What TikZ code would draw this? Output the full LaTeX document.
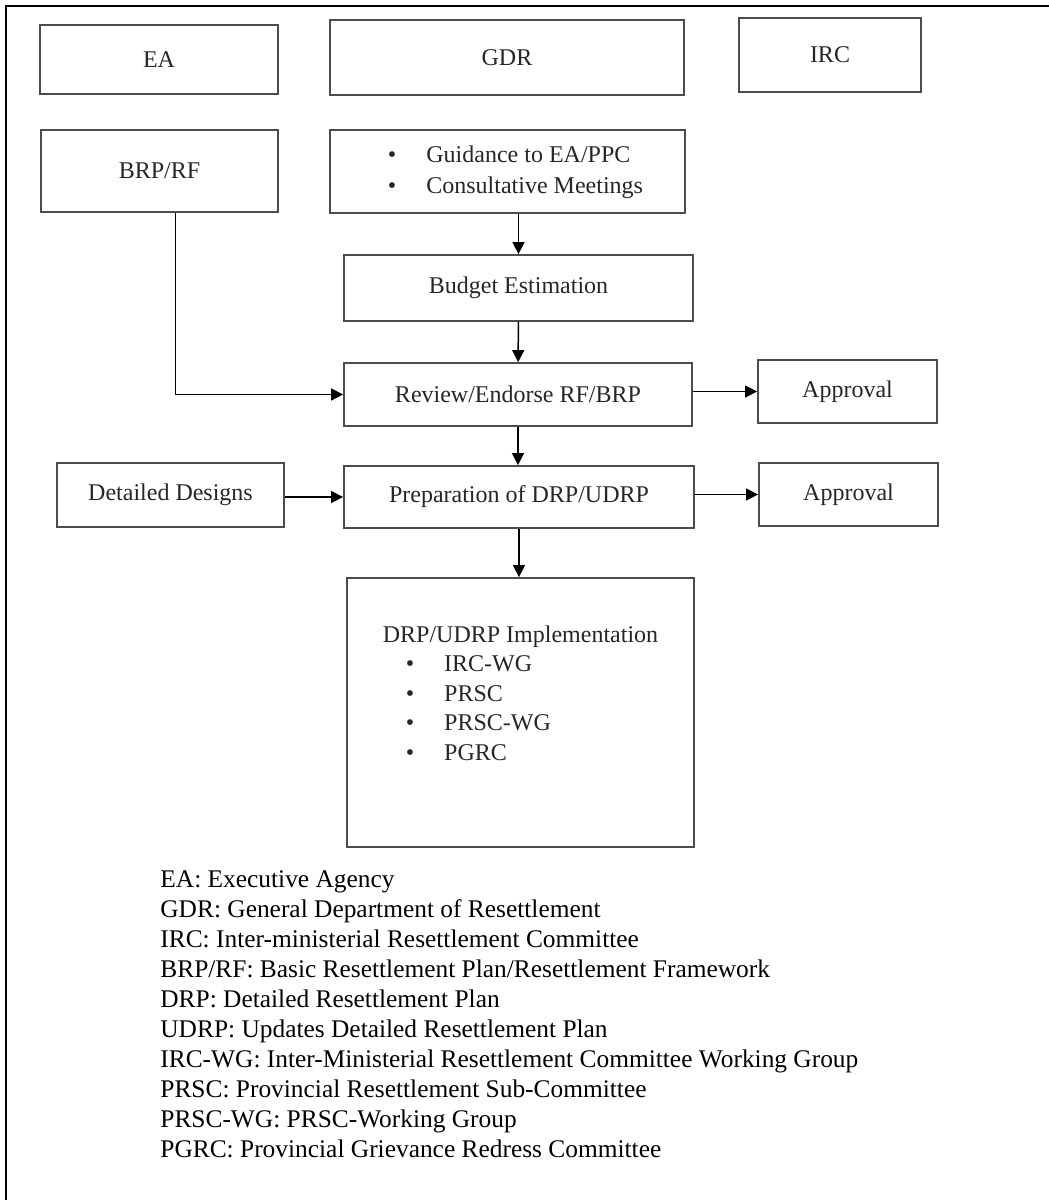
\documentclass[tikz,border=0pt]{standalone}
\usepackage{fontspec}
\setmainfont{Liberation Serif}
\usepackage{tikz}
\usetikzlibrary{arrows.meta,positioning}

\newcommand{\bitem}{\textbullet\hspace{15pt}}

\begin{document}
\begin{tikzpicture}[
    x=0.5pt, y=-0.5pt,
    box/.style={draw=black!70, line width=0.9pt, inner sep=0pt, align=center,
                text=black!85, font=\fontsize{12}{15}\selectfont},
    arr/.style={-{Triangle[length=6pt,width=6pt]}, line width=0.75pt},
    frame/.style={line width=1.2pt},
    note/.style={anchor=north west, inner sep=0pt, align=left,
                 font=\fontsize{12.7}{15}\selectfont}]
  \useasboundingbox (0,0) rectangle (1049,1200);
  \draw[frame] (6,1200) -- (6,6) -- (1049,6);

  % top row
  \node[box, minimum width=119pt,   minimum height=34.5pt] (ea)  at (159,59.5) {EA};
  \node[box, minimum width=177pt,   minimum height=37.5pt] (gdr) at (507,57.5) {GDR};
  \node[box, minimum width=91pt,    minimum height=37pt]   (irc) at (830,55)   {IRC};

  % main flow
  \node[box, minimum width=118.5pt, minimum height=41pt]   (brp)   at (159.5,171) {BRP/RF};
  \node[box, minimum width=177.5pt, minimum height=41.5pt] (guide) at (507.5,171.5)
    {\fontsize{12}{15.75}\selectfont
     \begin{tabular}{@{\hspace{8pt}}l@{}}
       \bitem Guidance to EA/PPC\\
       \bitem Consultative Meetings
     \end{tabular}};
  \node[box, minimum width=174.5pt, minimum height=33pt]   (budget) at (518.5,288) {Budget Estimation};
  \node[box, minimum width=174pt,   minimum height=31.5pt] (review) at (518,394.5) {Review/Endorse RF/BRP};
  \node[box, minimum width=89.5pt,  minimum height=31.5pt] (appr1)  at (847.5,391.5) {Approval};
  \node[box, minimum width=113.5pt, minimum height=32pt]   (design) at (170.5,495) {Detailed Designs};
  \node[box, minimum width=175pt,   minimum height=31pt]   (prep)   at (519,497) {Preparation of DRP/UDRP};
  \node[box, minimum width=89.5pt,  minimum height=31.5pt] (appr2)  at (848.5,494.5) {Approval};
  \node[box, minimum width=173.5pt, minimum height=134.5pt] (impl)  at (520.5,712.5)
    {\raisebox{8.5pt}[\height][\depth]{\fontsize{12}{14.75}\selectfont
     \begin{tabular}{@{}l@{}}
       DRP/UDRP Implementation\\
       \hspace*{11.5pt}\bitem IRC-WG\\
       \hspace*{11.5pt}\bitem PRSC\\
       \hspace*{11.5pt}\bitem PRSC-WG\\
       \hspace*{11.5pt}\bitem PGRC
     \end{tabular}}};

  \draw[arr] (guide.south -| budget.north) -- (budget.north);
  \draw[arr] (budget) -- (review);
  \draw[arr] ([xshift=8pt]brp.south) |- (review.west);
  \draw[arr] (review.east |- appr1.west) -- (appr1.west);
  \draw[arr] (review.south) -- (review.south |- prep.north);
  \draw[arr] (design.east |- prep.west) -- (prep.west);
  \draw[arr] (prep.east |- appr2.west) -- (appr2.west);
  \draw[arr] (prep.south) -- (prep.south |- impl.north);

  % abbreviations
  \node[note] (legend) at (160,870)
    {EA: Executive Agency\\
     GDR: General Department of Resettlement\\
     IRC: Inter-ministerial Resettlement Committee\\
     BRP/RF: Basic Resettlement Plan/Resettlement Framework\\
     DRP: Detailed Resettlement Plan\\
     UDRP: Updates Detailed Resettlement Plan\\
     IRC-WG: Inter-Ministerial Resettlement Committee Working Group\\
     PRSC: Provincial Resettlement Sub-Committee\\
     PRSC-WG: PRSC-Working Group\\
     PGRC: Provincial Grievance Redress Committee};
\end{tikzpicture}
\end{document}
